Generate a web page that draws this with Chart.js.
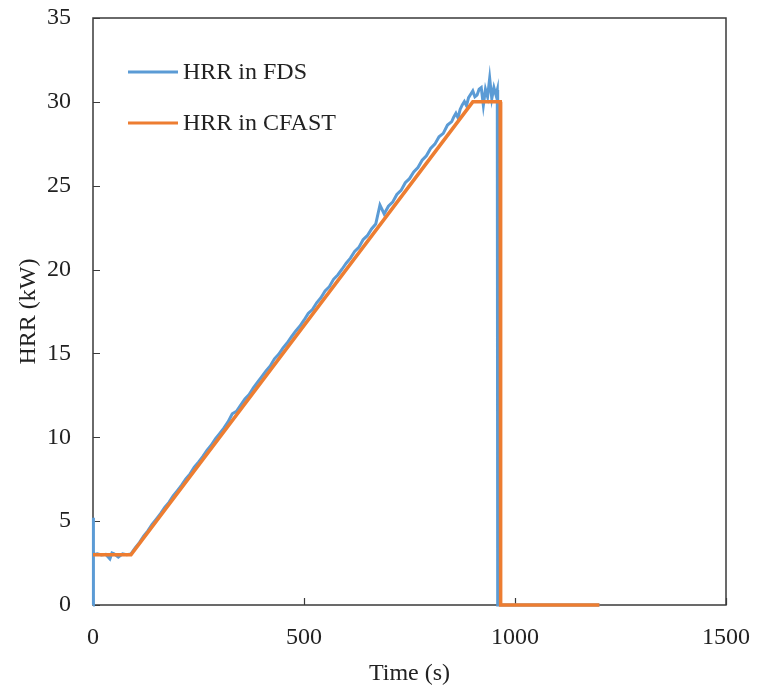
<!DOCTYPE html>
<html>
<head>
<meta charset="utf-8">
<script src="https://cdn.jsdelivr.net/npm/chart.js@4.4.1/dist/chart.umd.min.js"></script>
<style>
  html, body { margin: 0; padding: 0; background: #ffffff; }
  #wrap { width: 757px; height: 688px; }
</style>
</head>
<body>
<div id="wrap"><canvas id="c" width="757" height="688"></canvas></div>
<script>
// Heat release rate curves: FDS simulation output vs. CFAST input ramp
const seriesNames = ["HRR in FDS", "HRR in CFAST"];

const fdsTime = [
  0, 0, 2, 10, 20, 30, 40, 45, 50, 60, 70, 80, 90,
  100, 110, 120, 130, 140, 150, 160, 170, 180, 190,
  200, 210, 220, 230, 240, 250, 260, 270, 280, 290,
  300, 310, 320, 330, 340, 350, 360, 370, 380, 390,
  400, 410, 420, 430, 440, 450, 460, 470, 480, 490,
  500, 510, 520, 530, 540, 550, 560, 570, 580, 590,
  600, 610, 620, 630, 640, 650, 660, 670, 680, 690,
  700, 710, 720, 730, 740, 750, 760, 770, 780, 790,
  800, 810, 820, 830, 840, 850, 855, 860, 865, 870, 875, 880, 885, 890, 895,
  900, 905, 910, 915, 920, 925, 930, 935, 940, 945, 950, 955, 958, 959, 1200
];
const fdsHRR = [
  0, 5.2, 3.0, 3.05, 2.98, 3.02, 2.75, 3.1, 3.05, 2.85, 3.05, 3.0, 3.05,
  3.4, 3.72, 4.1, 4.42, 4.8, 5.12, 5.45, 5.82, 6.12, 6.5,
  6.82, 7.15, 7.52, 7.82, 8.22, 8.52, 8.85, 9.22, 9.52, 9.9,
  10.22, 10.55, 10.92, 11.4, 11.55, 11.92, 12.28, 12.55, 12.95, 13.28,
  13.62, 13.95, 14.25, 14.68, 14.95, 15.32, 15.62, 15.98, 16.32, 16.62,
  16.98, 17.38, 17.62, 18.02, 18.32, 18.72, 18.98, 19.42, 19.68, 20.02,
  20.38, 20.68, 21.08, 21.32, 21.78, 22.02, 22.42, 22.72, 23.85, 23.32,
  23.78, 24.02, 24.48, 24.72, 25.18, 25.42, 25.82, 26.08, 26.52, 26.78,
  27.22, 27.48, 27.92, 28.12, 28.62, 28.82, 29.1, 29.32, 29.05, 29.55, 29.82, 30.02, 29.78, 30.25, 30.45,
  30.65, 30.3, 30.4, 30.75, 30.85, 29.8, 30.75, 30.3, 31.4, 30.2, 30.85, 30.4, 30.7, 0, 0
];

const cfastTime = [0, 90, 900, 965, 966, 1200];
const cfastHRR = [3, 3, 30, 30, 0, 0];

const xTicks = [0, 500, 1000, 1500];
const yTicks = [0, 5, 10, 15, 20, 25, 30, 35];

const toPoints = (xs, ys) => xs.map((x, i) => ({ x: x, y: ys[i] }));

const FONT = "'Liberation Serif', 'Times New Roman', serif";
const TEXT = "#222222";
const FRAME = "#3a3a3a";

// Plot frame with inward tick marks, drawn underneath the curves
const framePlugin = {
  id: 'frame',
  beforeDatasetsDraw(chart) {
    const { ctx, chartArea: a, scales } = chart;
    ctx.save();
    ctx.strokeStyle = FRAME;
    ctx.lineWidth = 1.5;
    ctx.strokeRect(a.left, a.top, a.right - a.left, a.bottom - a.top);
    ctx.beginPath();
    yTicks.forEach(v => {
      const y = Math.round(scales.y.getPixelForValue(v)) + 0.5;
      ctx.moveTo(a.left, y);
      ctx.lineTo(a.left + 7, y);
    });
    xTicks.forEach(v => {
      const x = Math.round(scales.x.getPixelForValue(v)) + 0.5;
      ctx.moveTo(x, a.bottom);
      ctx.lineTo(x, a.bottom - 7);
    });
    ctx.lineWidth = 1.2;
    ctx.stroke();
    ctx.restore();
  }
};

// Legend inside the plot, upper left
const legendPlugin = {
  id: 'innerLegend',
  afterDraw(chart) {
    const { ctx } = chart;
    const rows = [72, 123];
    ctx.save();
    chart.data.datasets.forEach((ds, i) => {
      const y = rows[i];
      ctx.strokeStyle = ds.borderColor;
      ctx.lineWidth = 3;
      ctx.beginPath();
      ctx.moveTo(128, y);
      ctx.lineTo(178, y);
      ctx.stroke();
      ctx.fillStyle = TEXT;
      ctx.font = "24px " + FONT;
      ctx.textBaseline = 'middle';
      ctx.textAlign = 'left';
      ctx.fillText(ds.label, 183, y + 1);
    });
    ctx.restore();
  }
};

new Chart(document.getElementById('c'), {
  type: 'line',
  data: {
    datasets: [
      {
        label: seriesNames[0],
        data: toPoints(fdsTime, fdsHRR),
        borderColor: '#5B9BD5',
        borderWidth: 3,
        pointRadius: 0,
        tension: 0,
        clip: false,
        order: 1
      },
      {
        label: seriesNames[1],
        data: toPoints(cfastTime, cfastHRR),
        borderColor: '#ED7D31',
        borderWidth: 3.5,
        pointRadius: 0,
        tension: 0,
        clip: false,
        order: 0
      }
    ]
  },
  options: {
    responsive: false,
    animation: false,
    devicePixelRatio: 1,
    layout: { padding: { left: 0, right: 31, top: 18, bottom: 0 } },
    plugins: { legend: { display: false }, tooltip: { enabled: false } },
    scales: {
      x: {
        type: 'linear',
        min: 0,
        max: 1500,
        afterBuildTicks(s) { s.ticks = xTicks.map(v => ({ value: v })); },
        afterFit(s) { s.height = 83; s.paddingLeft = 0; s.paddingRight = 0; },
        grid: { display: false, drawTicks: false },
        border: { display: false },
        ticks: { color: TEXT, font: { family: FONT, size: 24 }, padding: 18, maxRotation: 0, callback: v => String(v) },
        title: { display: true, text: 'Time (s)', color: TEXT, font: { family: FONT, size: 24 }, padding: { top: 0, bottom: 0 } }
      },
      y: {
        type: 'linear',
        min: 0,
        max: 35,
        afterBuildTicks(s) { s.ticks = yTicks.map(v => ({ value: v })); },
        afterFit(s) { s.width = 93; s.paddingTop = 0; s.paddingBottom = 0; },
        grid: { display: false, drawTicks: false },
        border: { display: false },
        ticks: { color: TEXT, font: { family: FONT, size: 24 }, padding: 22, callback: v => String(v) },
        title: { display: true, text: 'HRR (kW)', color: TEXT, font: { family: FONT, size: 24 }, padding: { top: 14, bottom: 0 } }
      }
    }
  },
  plugins: [framePlugin, legendPlugin]
});
</script>
</body>
</html>
